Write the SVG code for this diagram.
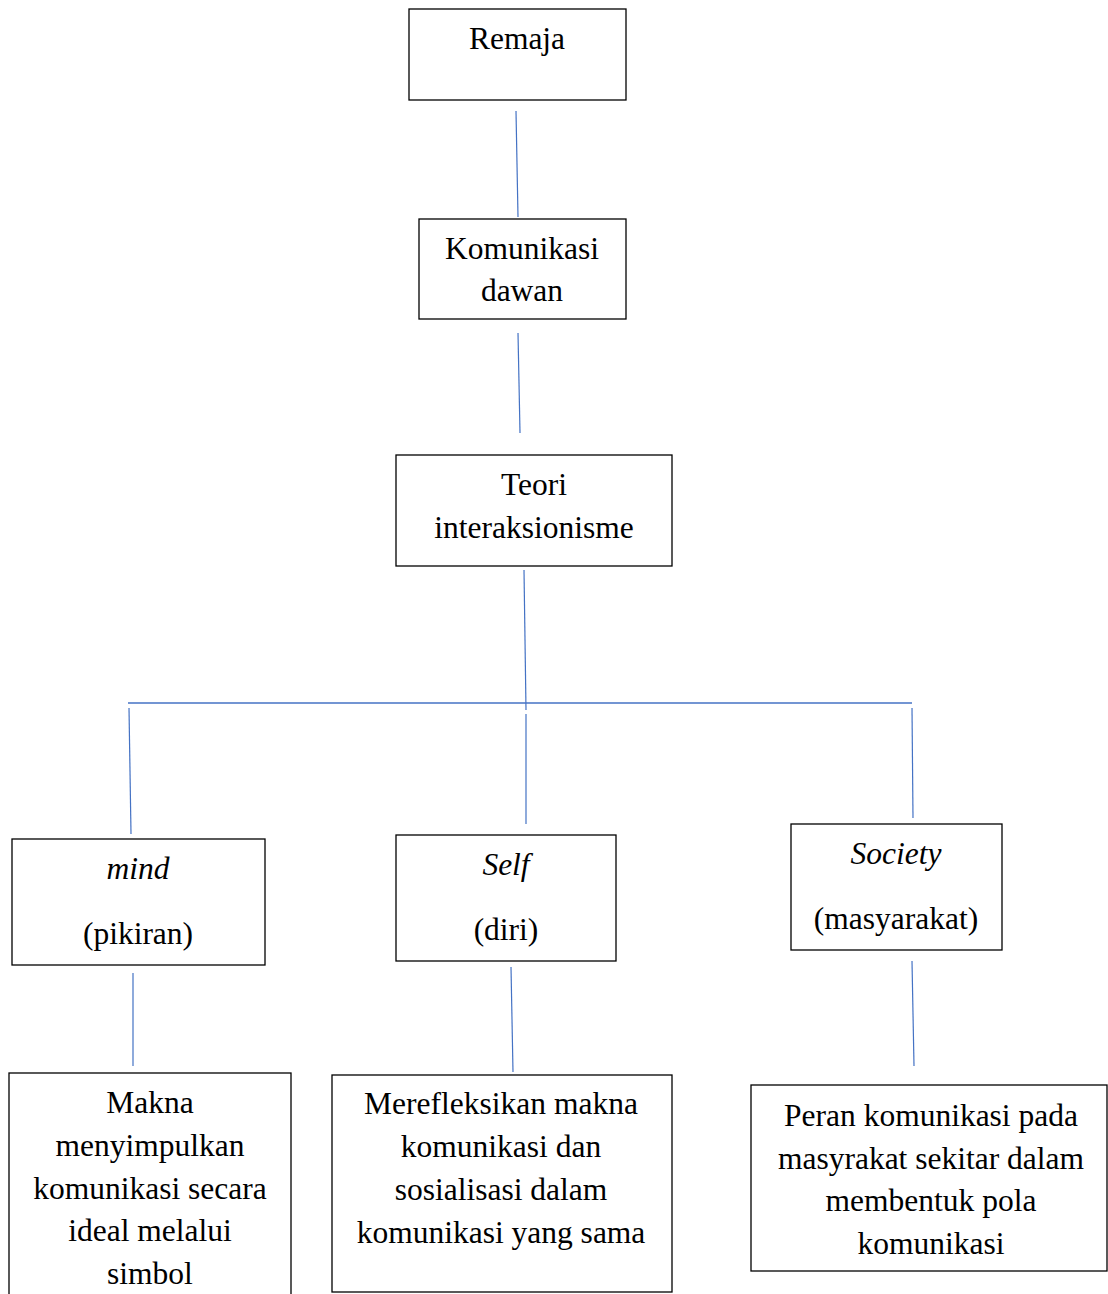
<svg xmlns="http://www.w3.org/2000/svg" width="1108" height="1294" viewBox="0 0 1108 1294">
<style>
.box{fill:#fff;stroke:#000;stroke-width:1.3}
.t{font-family:"Liberation Serif","Times New Roman",serif;font-size:31.5px;fill:#000;text-anchor:middle}
.i{font-style:italic}
.c{stroke:#4472C4;stroke-width:1.2;fill:none}
</style>
<rect width="1108" height="1294" fill="#fff"/>
<g id="connectors">
<line class="c" x1="516" y1="111" x2="518" y2="217"/>
<line class="c" x1="518" y1="333" x2="520" y2="433"/>
<line class="c" x1="524" y1="570" x2="526" y2="710"/>
<line class="c" x1="128" y1="703" x2="912" y2="703" style="stroke-width:1.6"/>
<line class="c" x1="129" y1="708" x2="131" y2="834"/>
<line class="c" x1="526" y1="714" x2="526" y2="824"/>
<line class="c" x1="912" y1="708" x2="913" y2="818"/>
<line class="c" x1="133" y1="973" x2="133" y2="1066"/>
<line class="c" x1="511" y1="967" x2="513" y2="1072"/>
<line class="c" x1="912" y1="961" x2="914" y2="1066"/>
</g>
<g id="remaja">
<rect class="box" x="409" y="9" width="217" height="91"/>
<text class="t" x="517" y="49">Remaja</text>
</g>
<g id="komunikasi">
<rect class="box" x="419" y="219" width="207" height="100"/>
<text class="t" x="522" y="259">Komunikasi</text>
<text class="t" x="522" y="301">dawan</text>
</g>
<g id="teori">
<rect class="box" x="396" y="455" width="276" height="111"/>
<text class="t" x="534" y="495">Teori</text>
<text class="t" x="534" y="538">interaksionisme</text>
</g>
<g id="mind">
<rect class="box" x="12" y="839" width="253" height="126"/>
<text class="t i" x="138" y="879">mind</text>
<text class="t" x="138" y="944">(pikiran)</text>
</g>
<g id="self">
<rect class="box" x="396" y="835" width="220" height="126"/>
<text class="t i" x="506" y="875">Self</text>
<text class="t" x="506" y="940">(diri)</text>
</g>
<g id="society">
<rect class="box" x="791" y="824" width="211" height="126"/>
<text class="t i" x="896" y="864">Society</text>
<text class="t" x="896" y="929">(masyarakat)</text>
</g>
<g id="makna">
<rect class="box" x="9" y="1073" width="282" height="240"/>
<text class="t" x="150" y="1113">Makna</text>
<text class="t" x="150" y="1156">menyimpulkan</text>
<text class="t" x="150" y="1199">komunikasi secara</text>
<text class="t" x="150" y="1241">ideal melalui</text>
<text class="t" x="150" y="1284">simbol</text>
</g>
<g id="merefleksikan">
<rect class="box" x="332" y="1075" width="340" height="217"/>
<text class="t" x="501" y="1114">Merefleksikan makna</text>
<text class="t" x="501" y="1157">komunikasi dan</text>
<text class="t" x="501" y="1200">sosialisasi dalam</text>
<text class="t" x="501" y="1243">komunikasi yang sama</text>
</g>
<g id="peran">
<rect class="box" x="751" y="1085" width="356" height="186"/>
<text class="t" x="931" y="1126">Peran komunikasi pada</text>
<text class="t" x="931" y="1169">masyrakat sekitar dalam</text>
<text class="t" x="931" y="1211">membentuk pola</text>
<text class="t" x="931" y="1254">komunikasi</text>
</g>
</svg>
